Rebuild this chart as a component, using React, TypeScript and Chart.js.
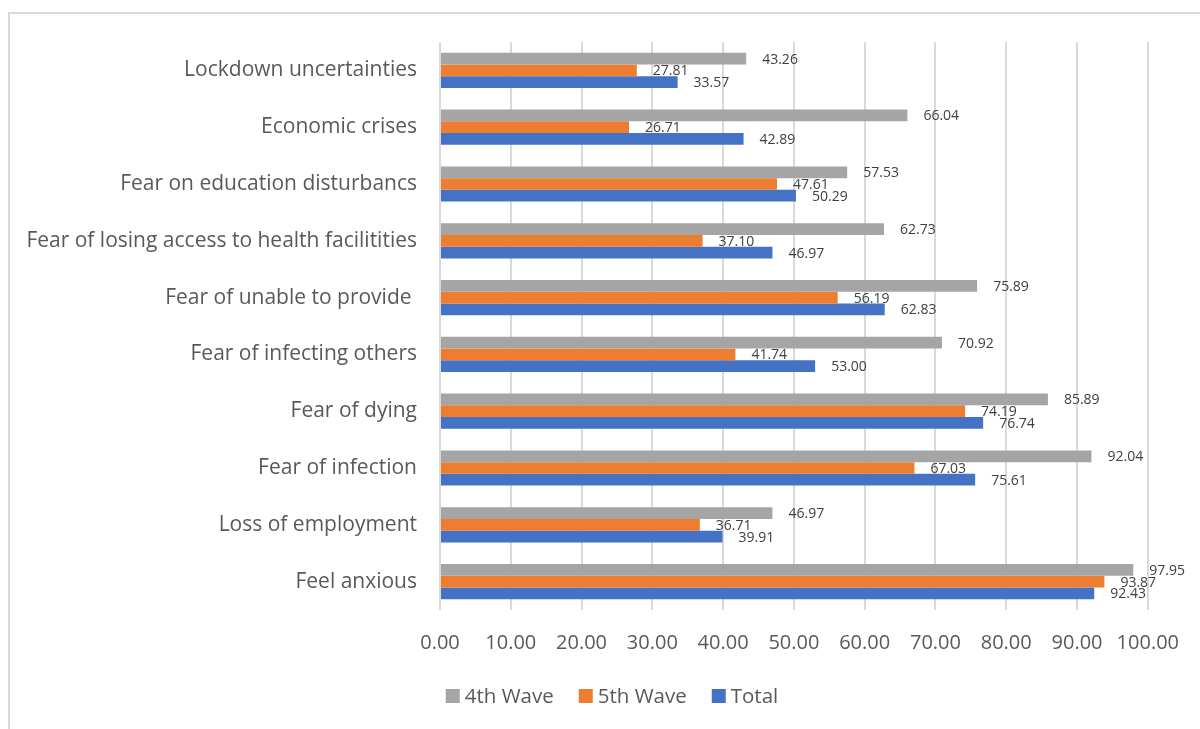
import React, { useEffect, useRef } from "react";
import { Chart, registerables } from "chart.js";

Chart.register(...registerables);

const categories = [
  "Lockdown uncertainties",
  "Economic crises",
  "Fear on education disturbancs",
  "Fear of losing access to health facilitities",
  "Fear of unable to provide ",
  "Fear of infecting others",
  "Fear of dying",
  "Fear of infection",
  "Loss of employment",
  "Feel anxious",
];

const wave4 = [43.26, 66.04, 57.53, 62.73, 75.89, 70.92, 85.89, 92.04, 46.97, 97.95];
const wave5 = [27.81, 26.71, 47.61, 37.1, 56.19, 41.74, 74.19, 67.03, 36.71, 93.87];
const total = [33.57, 42.89, 50.29, 46.97, 62.83, 53.0, 76.74, 75.61, 39.91, 92.43];

const seriesNames = ["4th Wave", "5th Wave", "Total"];
const seriesColors = ["#A5A5A5", "#ED7D31", "#4472C4"];

const FONT = "'Open Sans', 'Noto Sans', sans-serif";

const framePlugin = {
  id: "frame",
  beforeDraw(chart: any) {
    const ctx = chart.ctx;
    ctx.save();
    ctx.fillStyle = "#ffffff";
    ctx.fillRect(0, 0, chart.width, chart.height);
    ctx.strokeStyle = "#d9d9d9";
    ctx.lineWidth = 2;
    ctx.beginPath();
    ctx.moveTo(9, chart.height);
    ctx.lineTo(9, 13);
    ctx.lineTo(chart.width, 13);
    ctx.stroke();
    ctx.restore();
  },
};

const labelPlugin = {
  id: "barLabels",
  afterDatasetsDraw(chart: any) {
    const ctx = chart.ctx;
    ctx.save();
    ctx.font = `14px ${FONT}`;
    ctx.fillStyle = "#404040";
    ctx.textAlign = "left";
    ctx.textBaseline = "middle";
    chart.data.datasets.forEach((ds: any, i: number) => {
      const meta = chart.getDatasetMeta(i);
      meta.data.forEach((el: any, j: number) => {
        const v = ds.data[j] as number;
        ctx.fillText(v.toFixed(2), el.x + 16, el.y + 1);
      });
    });
    ctx.restore();
  },
};

const legendPlugin = {
  id: "customLegend",
  afterDraw(chart: any) {
    const ctx = chart.ctx;
    ctx.save();
    ctx.font = `20.5px ${FONT}`;
    ctx.textBaseline = "middle";
    ctx.textAlign = "left";
    const box = 14;
    const gapText = 5;
    const gapItem = 25;
    const widths = chart.data.datasets.map((d: any) => ctx.measureText(d.label).width);
    let totalW = 0;
    widths.forEach((w: number, i: number) => {
      totalW += box + gapText + w + (i < widths.length - 1 ? gapItem : 0);
    });
    const cx = 612;
    const cy = 696;
    let x = cx - totalW / 2;
    chart.data.datasets.forEach((d: any, i: number) => {
      ctx.fillStyle = d.backgroundColor;
      ctx.fillRect(x, cy - box / 2, box, box);
      ctx.fillStyle = "#595959";
      ctx.fillText(d.label, x + box + gapText, cy + 1);
      x += box + gapText + widths[i] + gapItem;
    });
    ctx.restore();
  },
};

export default function App() {
  const ref = useRef<HTMLCanvasElement | null>(null);

  useEffect(() => {
    if (!ref.current) return;
    const data = [wave4, wave5, total];
    const chart = new Chart(ref.current, {
      type: "bar",
      data: {
        labels: categories,
        datasets: seriesNames.map((name, i) => ({
          label: name,
          data: data[i],
          backgroundColor: seriesColors[i],
          borderWidth: 0,
          categoryPercentage: 0.62,
          barPercentage: 1.0,
        })),
      },
      options: {
        indexAxis: "y",
        responsive: false,
        animation: false,
        layout: { padding: { left: 0, right: 51, top: 42, bottom: 69 } },
        plugins: {
          legend: { display: false },
          tooltip: { enabled: false },
        },
        scales: {
          x: {
            min: 0,
            max: 100,
            ticks: {
              stepSize: 10,
              color: "#595959",
              font: { family: FONT, size: 20 },
              padding: 21,
              callback: (v: any) => Number(v).toFixed(2),
            },
            grid: { color: "#d9d9d9", lineWidth: 2, drawTicks: false },
            border: { display: false },
            afterFit: (s: any) => {
              s.height = 50;
            },
          },
          y: {
            ticks: {
              color: "#595959",
              font: { family: FONT, size: 21 },
              padding: 23,
            },
            grid: { display: false, drawTicks: false },
            border: { display: false },
            afterFit: (s: any) => {
              s.width = 440;
            },
          },
        },
      },
      plugins: [framePlugin, labelPlugin, legendPlugin],
    });
    return () => chart.destroy();
  }, []);

  return (
    <div style={{ position: "fixed", left: 0, top: 0, width: 1200, height: 729, background: "#fff" }}>
      <canvas ref={ref} width={1200} height={729} style={{ display: "block" }} />
    </div>
  );
}
